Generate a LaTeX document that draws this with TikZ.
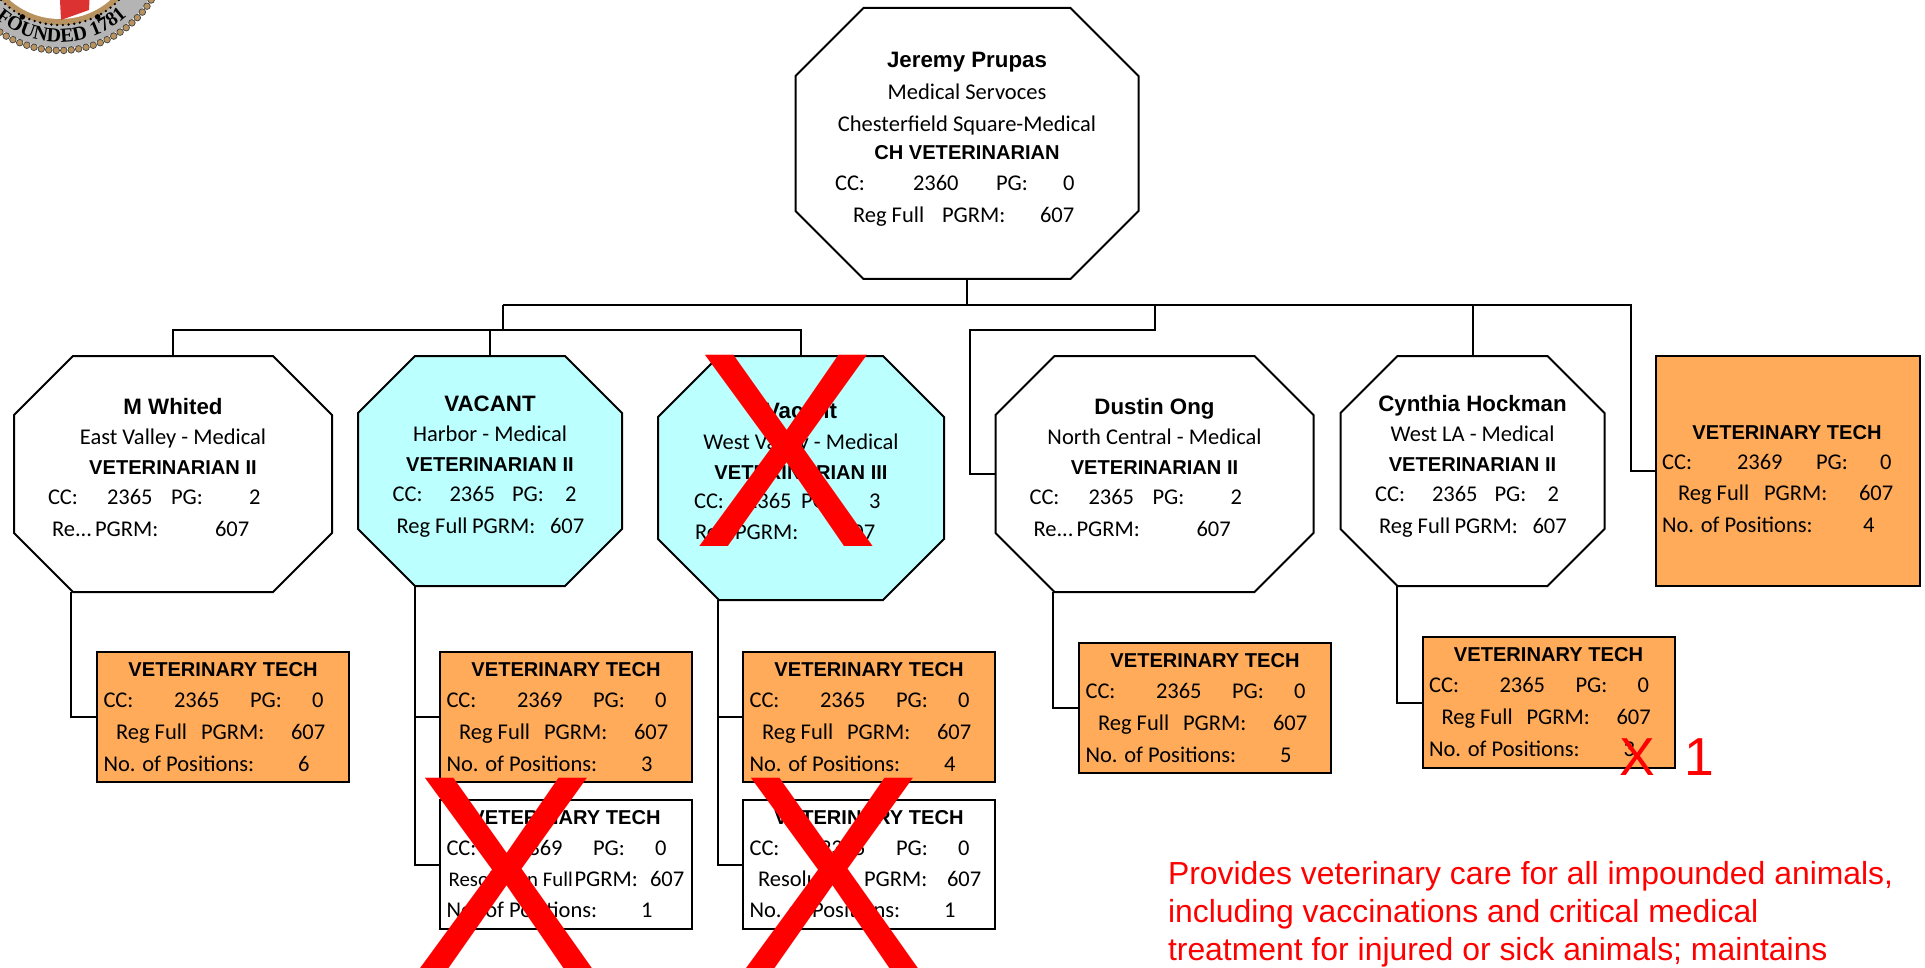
\documentclass[tikz,border=0pt]{standalone}
\usepackage{fontspec}
\setmainfont{Carlito}
\newfontfamily\arialf{Liberation Sans}
\newfontfamily\sealf{Liberation Serif}
\usetikzlibrary{decorations.text}
\definecolor{orangebox}{HTML}{FFAB5A}
\definecolor{cyanbox}{HTML}{BBFFFF}
\definecolor{sealtan}{HTML}{B8935F}
\definecolor{sealgray}{HTML}{B4B4B4}
\definecolor{sealred}{HTML}{DC3232}
\tikzset{
  octnode/.style={rectangle,inner sep=0pt,outer sep=0pt},
  octline/.style={draw=black,line width=2pt,line join=miter},
  rectbox/.style={rectangle,draw=black,line width=2pt,fill=orangebox,inner sep=0pt,outer sep=0pt,anchor=north west},
  conn/.style={draw=black,line width=2pt,line join=miter},
  txt/.style={inner sep=0pt,outer sep=0pt,anchor=base west,font=\fontsize{22.5}{26}\selectfont,text=black},
  ctr/.style={txt,anchor=base},
  ttl/.style={inner sep=0pt,outer sep=0pt,anchor=base,font=\arialf\bfseries\fontsize{20.1}{24}\selectfont,text=black},
  nam/.style={ttl,font=\arialf\bfseries\fontsize{22.3}{26}\selectfont},
  redx/.style={inner sep=0pt,outer sep=0pt,anchor=base west,text=red,font=\arialf\fontsize{278}{290}\selectfont},
}
\newcounter{lblc}
\newcommand\Lbl[3]{\stepcounter{lblc}\node[txt] (t\arabic{lblc}) at (#1,#2) {#3};}
\newcommand\Ctr[3]{\stepcounter{lblc}\node[ctr] (t\arabic{lblc}) at (#1,#2) {#3};}
\newcommand\Ttl[3]{\stepcounter{lblc}\node[ttl] (t\arabic{lblc}) at (#1,#2) {#3};}
\newcommand\Nam[3]{\stepcounter{lblc}\node[nam] (t\arabic{lblc}) at (#1,#2) {#3};}
% #1 name, #2 cx, #3 cy, #4 w, #5 h, #6 chamfer, #7 fill
\newcommand\Octagon[7]{%
  \pgfmathsetmacro\oa{#4/2}\pgfmathsetmacro\ob{#5/2}%
  \pgfmathsetmacro\oc{#4/2-#6}\pgfmathsetmacro\od{#5/2-#6}%
  \filldraw[octline,fill=#7,shift={(#2,#3)}] (-\oc,-\ob) -- (\oc,-\ob) -- (\oa,-\od) -- (\oa,\od) -- (\oc,\ob) -- (-\oc,\ob) -- (-\oa,\od) -- (-\oa,-\od) -- cycle;
  \node[octnode,minimum width=#4pt,minimum height=#5pt] (#1) at (#2,#3) {};}
\newcommand\TechTop[3]{\begin{scope}[shift={(#1,#2)}]
  \Ttl{126}{24.3}{VETERINARY TECH}
  \Lbl{6.5}{55}{CC:}\Lbl{77}{55}{#3}\Lbl{153}{55}{PG:}\Lbl{215}{55}{0}
  \end{scope}}
\newcommand\TechOrange[4]{\TechTop{#1}{#2}{#3}\begin{scope}[shift={(#1,#2)}]
  \Lbl{19}{87}{Reg Full}\Lbl{104}{87}{PGRM:}\Lbl{194}{87}{607}
  \Lbl{6.5}{119}{No. of Positions:}\Lbl{201}{119}{#4}\end{scope}}
\newcommand\TechWhite[7]{\TechTop{#1}{#2}{#3}\begin{scope}[shift={(#1,#2)}]
  \Lbl{#5}{86}{#4}\Lbl{#6}{86}{PGRM:}\Lbl{#7}{86}{607}
  \Lbl{6.5}{117.5}{No. of Positions:}\Lbl{201}{117.5}{1}\end{scope}}
\newcommand\OctA[3]{\begin{scope}[xshift=#1pt]
  \Nam{173}{414}{#2}\Ctr{173}{444}{#3}\Ttl{173}{474}{VETERINARIAN II}
  \Lbl{48}{504}{CC:}\Lbl{107}{504}{2365}\Lbl{171}{504}{PG:}\Lbl{249}{504}{2}
  \Lbl{52}{536}{Re...}\Lbl{95}{536}{PGRM:}\Lbl{215}{536}{607}\end{scope}}
\newcommand\OctB[3]{\begin{scope}[xshift=#1pt]
  \Nam{490}{411}{#2}\Ctr{490}{441}{#3}\Ttl{490}{471}{VETERINARIAN II}
  \Lbl{392.7}{501}{CC:}\Lbl{449.5}{501}{2365}\Lbl{512}{501}{PG:}\Lbl{565}{501}{2}
  \Lbl{396.5}{533}{Reg Full}\Lbl{472}{533}{PGRM:}\Lbl{550}{533}{607}\end{scope}}
\begin{document}
\begin{tikzpicture}[x=1pt,y=-1pt]
\useasboundingbox (0,0) rectangle (1925,968);
\begin{scope}
\clip (0,0) rectangle (1925,968);
% ---- seal, cut by the top edge; its centre lies above the picture
\begin{scope}[x=1pt,y=1pt,shift={(60,57)}]
  \fill[sealgray] (0,0) circle (105pt);
  \foreach \a in {0,4,...,356}
    \fill[sealtan,draw=black!75,line width=.7pt] (\a:107.5) circle (3.3pt);
  \fill[sealtan] (0,0) circle (82pt);
  \fill[white] (0,0) circle (76pt);
  \foreach \a in {0,4,...,356}
    \fill[black] (\a:82) circle (1.3pt);
  \fill[black] (243:83) circle (2.8pt);
  \fill[black] (297:83) circle (2.8pt);
  \path[decorate,decoration={text along path,text align=center,
     text={|\sealf\bfseries\fontsize{20}{22}\selectfont|FOUNDED 1781}}]
     (224:99) arc (224:318:99);
  \fill[sealred] (0,-57) -- (29.5,-57) -- (29,-67) -- (1,-77) -- cycle;
\end{scope}
\end{scope}

% ---- nodes
\Octagon{top}{967}{143.5}{343}{271}{68}{white}
\Octagon{mw}{173}{474}{318}{236}{59}{white}
\Octagon{hb}{490}{471}{264}{230}{57}{cyanbox}
\Octagon{wv}{801}{478}{286}{244}{61}{cyanbox}
\Octagon{dn}{1154.5}{474}{318}{236}{59}{white}
\Octagon{ch}{1472.5}{471}{264}{230}{57}{white}
\node[rectbox,minimum width=264pt,minimum height=230pt] (rt) at (1656,356) {};
\node[rectbox,minimum width=252pt,minimum height=130pt] (mwt) at (97,652) {};
\node[rectbox,minimum width=252pt,minimum height=130pt] (hbt) at (440,652) {};
\node[rectbox,minimum width=252pt,minimum height=129pt,fill=white] (hbr) at (440,800) {};
\node[rectbox,minimum width=252pt,minimum height=130pt] (wvt) at (743,652) {};
\node[rectbox,minimum width=252pt,minimum height=129pt,fill=white] (wvr) at (743,800) {};
\node[rectbox,minimum width=252pt,minimum height=130pt] (dnt) at (1079,643) {};
\node[rectbox,minimum width=252pt,minimum height=131pt] (cht) at (1422.5,637) {};

% ---- connectors
\coordinate (busL) at (503,305);
\coordinate (busR) at (1630.7,305);
\coordinate (busD) at (1155,305);
\coordinate (lowL) at (503,330);
\coordinate (lowD) at (1155,330);
\coordinate (dnbus) at (970,330);
\coordinate (mwd) at (71,592);
\coordinate (hbd) at (414.5,586);
\coordinate (wvd) at (717.5,600);
\coordinate (dnd) at (1053.4,592);
\coordinate (chd) at (1397,586);
\draw[conn] (top.south) -- (top.south |- busL);
\draw[conn] (busL) -- (busR) |- (rt.west);
\draw[conn] (busL) -- (lowL);
\draw[conn] (mw.north) |- (lowL) -| (wv.north);
\draw[conn] (hb.north) -- (hb.north |- lowL);
\draw[conn] (busD) -- (lowD) -- (dnbus) |- (dn.west);
\draw[conn] (ch.north) -- (ch.north |- busL);
\draw[conn] (mwd) |- (mwt.west);
\draw[conn] (hbd) |- (hbt.west);
\draw[conn] (hbd) |- (hbr.west);
\draw[conn] (wvd) |- (wvt.west);
\draw[conn] (wvd) |- (wvr.west);
\draw[conn] (dnd) |- (dnt.west);
\draw[conn] (chd) |- (cht.west);

% ---- texts
\Nam{967}{68}{Jeremy Prupas}
\Ctr{967}{100}{Medical Servoces}
\Ctr{967}{132}{Chesterfield Square-Medical}
\Ttl{967}{160}{CH VETERINARIAN}
\Lbl{835}{191}{CC:}\Lbl{913}{191}{2360}\Lbl{996}{191}{PG:}\Lbl{1063}{191}{0}
\Lbl{853}{223}{Reg Full}\Lbl{942}{223}{PGRM:}\Lbl{1040}{223}{607}

\OctA{0}{M Whited}{East Valley - Medical}
\OctB{0}{VACANT}{Harbor - Medical}
\OctA{981.5}{Dustin Ong}{North Central - Medical}
\OctB{982.5}{Cynthia Hockman}{West LA - Medical}

\Nam{801}{418}{Vacant}
\Ctr{801}{449}{West Valley - Medical}
\Ttl{801}{479}{VETERINARIAN III}
\Lbl{694}{508}{CC:}\Lbl{746}{508}{2365}\Lbl{801}{508}{PG:}\Lbl{869}{508}{3}
\Lbl{695}{539.5}{Re...}\Lbl{735}{539.5}{PGRM:}\Lbl{841}{539.5}{607}

\Ttl{1787}{439}{VETERINARY TECH}
\Lbl{1662}{469}{CC:}\Lbl{1737}{469}{2369}\Lbl{1816}{469}{PG:}\Lbl{1880}{469}{0}
\Lbl{1678}{500}{Reg Full}\Lbl{1764}{500}{PGRM:}\Lbl{1859}{500}{607}
\Lbl{1662}{532}{No. of Positions:}\Lbl{1863}{532}{4}

\TechOrange{97}{652}{2365}{6}
\TechOrange{440}{652}{2369}{3}
\TechWhite{440}{800}{2369}{{\fontsize{20.8}{25}\selectfont Resolution Full}}{8.6}{134.6}{210}
\TechOrange{743}{652}{2365}{4}
\TechWhite{743}{800}{2365}{Resolutio...}{15}{121}{204}
\TechOrange{1079}{643}{2365}{5}
\TechOrange{1422.5}{637}{2365}{3}

% ---- red marks and note
\node[redx] (x1) at (693,546) {X};
\node[redx] (x2) at (413,969) {X};
\node[redx] (x3) at (739,969) {X};
\node[redx,font=\arialf\fontsize{53.5}{60}\selectfont] (x4) at (1619.5,775) {X\ \ 1};
\node[inner sep=0pt,outer sep=0pt,anchor=base west,align=left,text=red,
      font=\arialf\fontsize{31.9}{38}\selectfont] (note) at (1168,960)
  {Provides veterinary care for all impounded animals,\\
   including vaccinations and critical medical\\
   treatment for injured or sick animals; maintains};
\end{tikzpicture}
\end{document}
